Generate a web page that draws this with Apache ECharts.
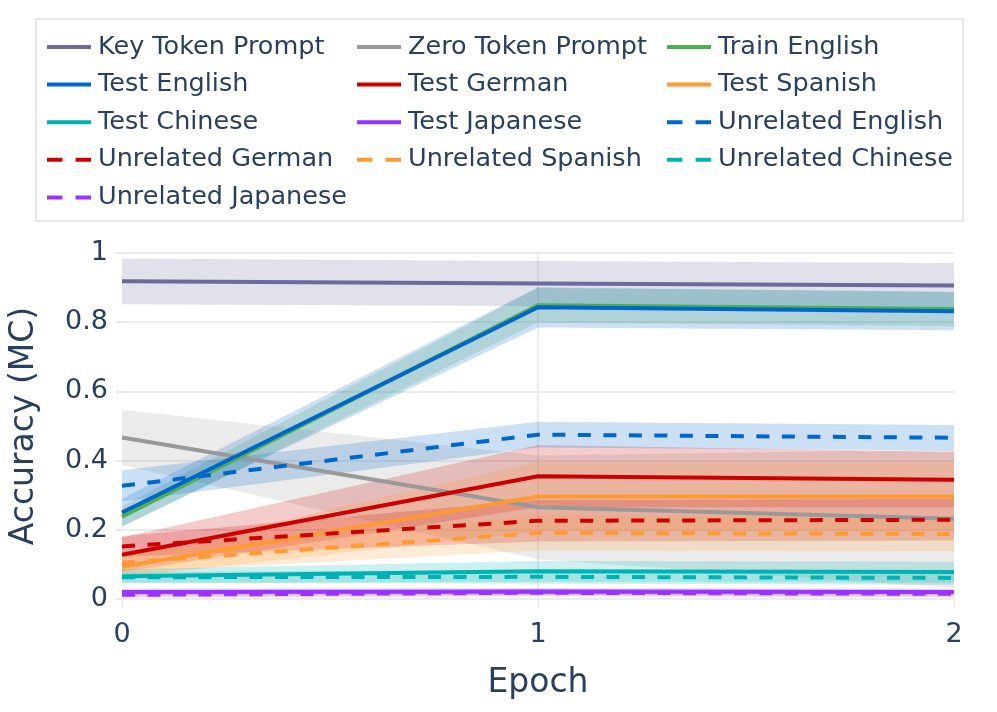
<!DOCTYPE html>
<html>
<head>
<meta charset="utf-8">
<script src="https://cdn.jsdelivr.net/npm/echarts@6/dist/echarts.min.js"></script>
<style>
html,body{margin:0;padding:0;background:#fff;}
#chart{width:997px;height:712px;}
</style>
</head>
<body>
<div id="chart"></div>
<script>
var epochs = ['0', '1', '2'];

var seriesNames = ['Key Token Prompt', 'Zero Token Prompt', 'Train English', 'Test English', 'Test German', 'Test Spanish',
  'Test Chinese', 'Test Japanese', 'Unrelated English', 'Unrelated German', 'Unrelated Spanish', 'Unrelated Chinese', 'Unrelated Japanese'];

var keyTokenMean = [0.918, 0.912, 0.906];
var keyTokenErr = [0.066, 0.065, 0.065];
var zeroTokenMean = [0.467, 0.265, 0.232];
var zeroTokenErr = [0.08, 0.15, 0.2];
var trainEnglishMean = [0.238, 0.849, 0.838];
var trainEnglishErr = [0.03, 0.05, 0.05];
var testEnglishMean = [0.25, 0.843, 0.832];
var testEnglishErr = [0.04, 0.058, 0.055];
var testGermanMean = [0.128, 0.355, 0.345];
var testGermanErr = [0.05, 0.09, 0.08];
var testSpanishMean = [0.093, 0.296, 0.296];
var testSpanishErr = [0.03, 0.1, 0.1];
var testChineseMean = [0.066, 0.08, 0.078];
var testChineseErr = [0.02, 0.03, 0.03];
var testJapaneseMean = [0.02, 0.022, 0.02];
var testJapaneseErr = [0.01, 0.01, 0.01];
var unrelEnglishMean = [0.327, 0.475, 0.466];
var unrelEnglishErr = [0.045, 0.037, 0.037];
var unrelGermanMean = [0.152, 0.226, 0.229];
var unrelGermanErr = [0.03, 0.06, 0.06];
var unrelSpanishMean = [0.105, 0.191, 0.188];
var unrelSpanishErr = [0.03, 0.05, 0.05];
var unrelChineseMean = [0.063, 0.064, 0.061];
var unrelChineseErr = [0.015, 0.02, 0.02];
var unrelJapaneseMean = [0.012, 0.018, 0.015];
var unrelJapaneseErr = [0.008, 0.01, 0.01];

var yTicks = [0, 0.2, 0.4, 0.6, 0.8, 1];

var means = [keyTokenMean, zeroTokenMean, trainEnglishMean, testEnglishMean, testGermanMean, testSpanishMean,
  testChineseMean, testJapaneseMean, unrelEnglishMean, unrelGermanMean, unrelSpanishMean, unrelChineseMean, unrelJapaneseMean];
var errs = [keyTokenErr, zeroTokenErr, trainEnglishErr, testEnglishErr, testGermanErr, testSpanishErr,
  testChineseErr, testJapaneseErr, unrelEnglishErr, unrelGermanErr, unrelSpanishErr, unrelChineseErr, unrelJapaneseErr];
var colors = ['#6b6b9e', '#999999', '#4caf50', '#0066cc', '#cc0000', '#ff9933', '#00b3b3', '#9933ff',
  '#0066cc', '#cc0000', '#ff9933', '#00b3b3', '#9933ff'];
var dashed = [false, false, false, false, false, false, false, false, true, true, true, true, true];

var FONT = 'DejaVu Sans';
var TXT = '#2a3f5f';

var series = [];
// bands
for (var i = 0; i < seriesNames.length; i++) {
  var lo = means[i].map(function (m, k) { return +(m - errs[i][k]).toFixed(4); });
  var span = errs[i].map(function (e) { return +(2 * e).toFixed(4); });
  series.push({
    name: '_lo' + i, type: 'line', stack: 'band' + i, data: lo, symbol: 'none',
    lineStyle: { opacity: 0, width: 0 }, silent: true, z: 1
  });
  series.push({
    name: '_hi' + i, type: 'line', stack: 'band' + i, data: span, symbol: 'none',
    lineStyle: { opacity: 0, width: 0 }, areaStyle: { color: colors[i], opacity: 0.2 }, silent: true, z: 1
  });
}
// lines
for (var j = 0; j < seriesNames.length; j++) {
  series.push({
    name: seriesNames[j], type: 'line', data: means[j], symbol: 'none', showSymbol: false,
    color: colors[j],
    lineStyle: { color: colors[j], width: 4, type: dashed[j] ? [13, 12.5] : 'solid' },
    z: 3 + j
  });
}

var solidIcon = 'rect';
var dashIcon = 'path://M0,0h14v4h-14z M26,0h14v4h-14z';
function legendItems(names) {
  return names.map(function (n) {
    var idx = seriesNames.indexOf(n);
    return { name: n, icon: dashed[idx] ? dashIcon : solidIcon };
  });
}
function mkLegend(left, names) {
  return {
    orient: 'vertical', left: left, top: 32, padding: 0,
    itemWidth: 44, itemHeight: 4, itemGap: 7.6, symbolKeepAspect: false,
    selectedMode: false,
    textStyle: { fontFamily: FONT, fontSize: 25.5, color: TXT, lineHeight: 30, padding: [0, 0, 0, 2] },
    data: legendItems(names)
  };
}

var option = {
  backgroundColor: '#ffffff',
  animation: false,
  textStyle: { fontFamily: FONT },
  graphic: [{
    type: 'rect', left: 35, top: 18, silent: true,
    shape: { width: 927, height: 202 },
    style: { fill: '#ffffff', stroke: '#e6e6e6', lineWidth: 2 }, z: -1
  }],
  legend: [
    mkLegend(47, ['Key Token Prompt', 'Test English', 'Test Chinese', 'Unrelated German', 'Unrelated Japanese']),
    mkLegend(357, ['Zero Token Prompt', 'Test German', 'Test Japanese', 'Unrelated Spanish']),
    mkLegend(667, ['Train English', 'Test Spanish', 'Unrelated English', 'Unrelated Chinese'])
  ],
  grid: { left: 121, right: 43, top: 253, bottom: 113, containLabel: false },
  xAxis: {
    type: 'category', data: epochs, boundaryGap: false,
    name: 'Epoch', nameLocation: 'middle', nameGap: 68,
    nameTextStyle: { fontFamily: FONT, fontSize: 33, color: TXT },
    axisLine: { show: false },
    axisTick: { show: true, length: 8, lineStyle: { color: '#e0e0e0', width: 1 } },
    axisLabel: { fontFamily: FONT, fontSize: 27, color: TXT, margin: 22 },
    splitLine: { show: true, interval: function (i) { return i === 1; }, lineStyle: { color: '#e6e6e6', width: 1.5 } }
  },
  yAxis: {
    type: 'value', min: 0, max: 1, interval: 0.2,
    name: 'Accuracy (MC)', nameLocation: 'middle', nameGap: 81, nameRotate: 90,
    nameTextStyle: { fontFamily: FONT, fontSize: 33, color: TXT },
    axisLine: { show: false },
    axisTick: { show: true, length: 6, lineStyle: { color: '#e0e0e0', width: 1.5 } },
    axisLabel: {
      fontFamily: FONT, fontSize: 27, color: TXT, margin: 14,
      formatter: function (v) {
        for (var t = 0; t < yTicks.length; t++) { if (Math.abs(yTicks[t] - v) < 1e-9) return String(yTicks[t]); }
        return '';
      }
    },
    splitLine: { show: true, lineStyle: { color: '#e6e6e6', width: 1.5 } }
  },
  series: series
};

var chart = echarts.init(document.getElementById('chart'), null, { renderer: 'canvas' });
chart.setOption(option);
</script>
</body>
</html>
